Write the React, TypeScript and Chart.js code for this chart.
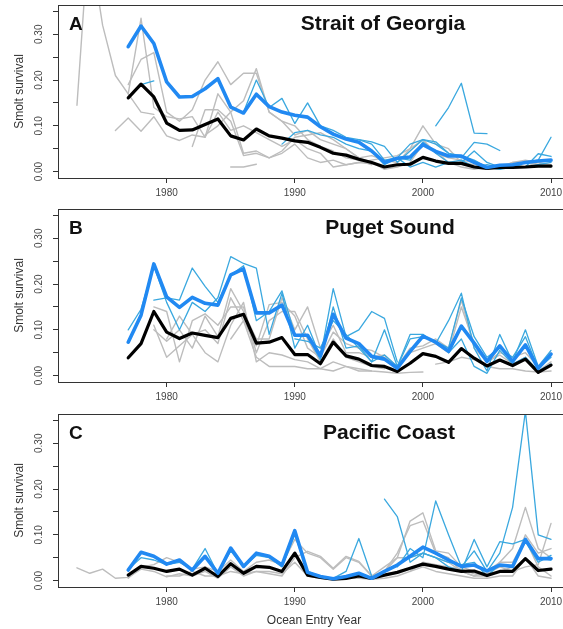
import React, { useEffect, useRef } from 'react';
import { Chart, registerables } from 'chart.js';

Chart.register(...registerables);

// ---- axes ----
const X_MIN = 1971.52;
const X_MAX = 2011.48;
const Y_MIN = -0.014;
const Y_MAX = 0.364;
const X_TICKS = [1980, 1990, 2000, 2010];
const X_TICK_LABELS = ['1980', '1990', '2000', '2010'];
const Y_TICKS = [0, 0.05, 0.1, 0.15, 0.2, 0.25, 0.3, 0.35];
const Y_TICK_LABELS = ['0.00', '', '0.10', '', '0.20', '', '0.30', ''];
const Y_TITLE = 'Smolt survival';
const X_TITLE = 'Ocean Entry Year';

type Seg = [number, number[]];

// ---- A: Strait of Georgia ----
const sogBlackStart = 1977;
const sogBlack = [0.161, 0.191, 0.163, 0.106, 0.090, 0.091, 0.103, 0.115, 0.078, 0.069, 0.093, 0.078, 0.073, 0.067, 0.064, 0.053, 0.040, 0.036, 0.027, 0.020, 0.010, 0.015, 0.016, 0.031, 0.023, 0.018, 0.018, 0.010, 0.007, 0.009, 0.009, 0.010, 0.012, 0.012];
const sogBlueStart = 1977;
const sogBlue = [0.273, 0.318, 0.280, 0.196, 0.163, 0.164, 0.181, 0.203, 0.141, 0.128, 0.169, 0.142, 0.130, 0.123, 0.119, 0.098, 0.082, 0.071, 0.064, 0.045, 0.020, 0.029, 0.032, 0.059, 0.044, 0.034, 0.034, 0.020, 0.009, 0.014, 0.015, 0.020, 0.023, 0.025];
const sogGray: Seg[] = [
  [1973, [0.145, 0.55]],
  [1974, [0.50, 0.32, 0.21, 0.17, 0.13, 0.125]],
  [1976, [0.09, 0.117, 0.088, 0.12, 0.078, 0.068, 0.08, 0.075, 0.13, 0.09, 0.10, 0.085, 0.07, 0.055, 0.07, 0.05, 0.04, 0.01, 0.015, 0.02, 0.017]],
  [1977, [0.17, 0.335, 0.14, 0.12, 0.115, 0.12, 0.075, 0.17, 0.13, 0.04, 0.045, 0.03, 0.04, 0.06, 0.03, 0.02, 0.025, 0.015, 0.02, 0.025, 0.03, 0.035, 0.05, 0.10, 0.06, 0.05, 0.02, 0.015, 0.01, 0.01, 0.02, 0.02, 0.015, 0.015]],
  [1977, [0.19, 0.245, 0.26, 0.13, 0.11, 0.135, 0.20, 0.24, 0.19, 0.215, 0.215, 0.13, 0.11, 0.08, 0.09, 0.07, 0.06, 0.05, 0.03, 0.035, 0.025, 0.02, 0.05, 0.07, 0.04, 0.03, 0.025, 0.02, 0.01, 0.015, 0.015, 0.01, 0.02, 0.015]],
  [1982, [0.055, 0.135, 0.135, 0.11, 0.035, 0.04, 0.03, 0.045, 0.075, 0.08, 0.085, 0.07, 0.05, 0.03, 0.02, 0.005, 0.01, 0.02, 0.06, 0.045, 0.02, 0.01, 0.005, 0.01, 0.005, 0.02, 0.025, 0.02, 0.01]],
  [1985, [0.01, 0.01, 0.016]],
  [1983, [0.08, 0.10, 0.13, 0.155, 0.225, 0.13, 0.11, 0.10, 0.07, 0.055, 0.045, 0.03, 0.025, 0.015]],
];
const sogLight: Seg[] = [
  [1978, [0.19, 0.198]],
  [1986, [0.13, 0.20, 0.14, 0.16, 0.105, 0.15, 0.10, 0.09, 0.075, 0.07, 0.06, 0.025, 0.03, 0.06, 0.07, 0.065, 0.04, 0.035, 0.025, 0.01, 0.005, 0.01, 0.01, 0.015, 0.02]],
  [2001, [0.10, 0.14, 0.193, 0.084, 0.083]],
  [1995, [0.07, 0.065, 0.055, 0.02, 0.045, 0.07, 0.06, 0.04, 0.03, 0.064, 0.06, 0.046]],
  [1998, [0.03, 0.01, 0.02, 0.01, 0.02, 0.025, 0.01, 0.015, 0.01, 0.01, 0.02, 0.025, 0.075]],
  [1989, [0.06, 0.085, 0.09, 0.08, 0.075, 0.06, 0.05, 0.045, 0.015, 0.03, 0.025, 0.065, 0.04, 0.02, 0.02, 0.045, 0.02, 0.01, 0.015, 0.01, 0.039, 0.033]],
];

// ---- B: Puget Sound ----
const psBlackStart = 1977;
const psBlack = [0.039, 0.07, 0.14, 0.095, 0.081, 0.093, 0.088, 0.083, 0.125, 0.134, 0.071, 0.073, 0.083, 0.046, 0.046, 0.026, 0.073, 0.043, 0.036, 0.022, 0.020, 0.009, 0.027, 0.048, 0.042, 0.029, 0.059, 0.038, 0.021, 0.034, 0.022, 0.036, 0.007, 0.023];
const psBlueStart = 1977;
const psBlue = [0.073, 0.132, 0.244, 0.172, 0.149, 0.171, 0.158, 0.154, 0.22, 0.233, 0.137, 0.137, 0.154, 0.088, 0.088, 0.043, 0.134, 0.082, 0.07, 0.042, 0.036, 0.016, 0.053, 0.086, 0.073, 0.053, 0.108, 0.071, 0.031, 0.065, 0.031, 0.067, 0.016, 0.047];
const psGray: Seg[] = [
  [1979, [0.10, 0.075, 0.10, 0.06, 0.13, 0.085, 0.19, 0.14, 0.08, 0.08, 0.17, 0.10, 0.15, 0.06, 0.11, 0.05, 0.05, 0.04, 0.045, 0.02, 0.06, 0.065, 0.08, 0.06, 0.165, 0.06, 0.03, 0.05, 0.04, 0.05, 0.02, 0.05]],
  [1979, [0.11, 0.04, 0.065, 0.09, 0.05, 0.03, 0.11, 0.16, 0.03, 0.05, 0.045, 0.035, 0.03, 0.015, 0.03, 0.02, 0.015, 0.01, 0.008, 0.005, 0.007, 0.008]],
  [1979, [0.15, 0.14, 0.03, 0.12, 0.135, 0.11, 0.15, 0.15, 0.05, 0.12, 0.14, 0.14, 0.08, 0.03, 0.08, 0.04, 0.03, 0.02, 0.015]],
  [1980, [0.08, 0.13, 0.09, 0.10, 0.07, 0.17, 0.12, 0.04, 0.02, 0.02, 0.02, 0.015, 0.015, 0.01, 0.02, 0.01, 0.01]],
  [1985, [0.08, 0.12, 0.065, 0.155, 0.16, 0.13, 0.06, 0.04, 0.095, 0.07, 0.06, 0.055, 0.04, 0.02, 0.05, 0.06, 0.07, 0.05, 0.15, 0.07, 0.03, 0.045, 0.025, 0.04, 0.01, 0.03]],
  [2001, [0.025, 0.03, 0.04, 0.035, 0.02, 0.015, 0.015, 0.01, 0.008, 0.01]],
];
const psLight: Seg[] = [
  [1977, [0.10, 0.145, 0.24, 0.16, 0.10, 0.16, 0.14, 0.17, 0.26, 0.245, 0.235, 0.09, 0.18, 0.06, 0.11, 0.04, 0.19, 0.085, 0.10, 0.14, 0.125, 0.03]],
  [1979, [0.165, 0.17, 0.165, 0.235, 0.195, 0.16, 0.22, 0.24, 0.12, 0.14, 0.185, 0.09, 0.085, 0.035, 0.15, 0.06, 0.065, 0.03, 0.10, 0.02, 0.09, 0.09, 0.07, 0.12, 0.18, 0.06, 0.01, 0.09, 0.03, 0.10, 0.02, 0.055]],
  [1990, [0.08, 0.075, 0.06, 0.12, 0.09, 0.06, 0.03, 0.045, 0.02, 0.08, 0.085, 0.075, 0.06, 0.17, 0.085, 0.04, 0.06, 0.04, 0.085, 0.015, 0.04]],
  [2002, [0.05, 0.08, 0.02, 0.005, 0.055, 0.025, 0.04, 0.01, 0.025]],
];

// ---- C: Pacific Coast ----
const pcBlackStart = 1977;
const pcBlack = [0.012, 0.031, 0.027, 0.02, 0.025, 0.012, 0.027, 0.009, 0.037, 0.016, 0.031, 0.029, 0.02, 0.06, 0.012, 0.007, 0.003, 0.005, 0.01, 0.005, 0.012, 0.018, 0.027, 0.036, 0.031, 0.025, 0.02, 0.021, 0.011, 0.02, 0.02, 0.048, 0.022, 0.025];
const pcBlueStart = 1977;
const pcBlue = [0.023, 0.062, 0.053, 0.036, 0.045, 0.023, 0.053, 0.016, 0.071, 0.031, 0.06, 0.053, 0.034, 0.109, 0.018, 0.009, 0.004, 0.009, 0.016, 0.005, 0.02, 0.034, 0.053, 0.073, 0.06, 0.045, 0.031, 0.034, 0.021, 0.034, 0.031, 0.09, 0.048, 0.048];
const pcGray: Seg[] = [
  [1973, [0.028, 0.016, 0.025, 0.005, 0.007, 0.025, 0.02, 0.008, 0.015, 0.01, 0.02, 0.005, 0.03, 0.01, 0.02, 0.015, 0.01, 0.05, 0.064, 0.053, 0.027, 0.053, 0.042, 0.01, 0.03, 0.05, 0.13, 0.148, 0.065, 0.06, 0.03, 0.02, 0.015, 0.03, 0.02, 0.03, 0.035, 0.125]],
  [1977, [0.005, 0.03, 0.035, 0.05, 0.04, 0.025, 0.03, 0.02, 0.045, 0.02, 0.04, 0.045, 0.035, 0.09, 0.06, 0.05, 0.025, 0.05, 0.04, 0.01, 0.02, 0.05, 0.05, 0.06, 0.05, 0.04, 0.02, 0.01, 0.02, 0.04, 0.07, 0.16, 0.07, 0.05]],
  [1980, [0.01, 0.01, 0.02, 0.01, 0.01, 0.02, 0.015, 0.02, 0.02, 0.015, 0.04, 0.01, 0.005, 0.002, 0.005, 0.005, 0.003, 0.005, 0.01, 0.02, 0.03, 0.02, 0.015, 0.01, 0.005, 0.005, 0.01, 0.01, 0.05, 0.01, 0.005]],
  [1997, [0.02, 0.06, 0.12, 0.13, 0.06, 0.05, 0.02, 0.01, 0.01, 0.02, 0.03, 0.10, 0.06, 0.07]],
  [1999, [0.02, 0.04, 0.035, 0.03, 0.025, 0.015, 0.01, 0.04, 0.04, 0.09, 0.03, 0.01]],
];
const pcLight: Seg[] = [
  [1977, [0.025, 0.05, 0.045, 0.035, 0.04, 0.025, 0.07, 0.015, 0.065, 0.03, 0.055, 0.05, 0.03, 0.10, 0.02, 0.01, 0.005, 0.02, 0.092, 0.01]],
  [1997, [0.178, 0.14, 0.04, 0.06, 0.05, 0.03, 0.02, 0.09, 0.03, 0.085, 0.08, 0.09, 0.05, 0.045]],
  [1998, [0.03, 0.07, 0.05, 0.174, 0.10, 0.03, 0.065, 0.02, 0.06, 0.16, 0.37, 0.10, 0.09]],
  [1999, [0.05, 0.06, 0.05, 0.04, 0.035, 0.04, 0.01, 0.035, 0.03, 0.085, 0.04, 0.055]],
];

// ---- styling ----
const COL_BLUE = '#2189f2';
const COL_BLACK = '#000000';
const COL_LIGHT = '#3aa8df';
const COL_GRAY = '#bdbdbd';
const FONT = '"Liberation Sans", Arial, Helvetica, sans-serif';

const toPts = (start: number, vals: number[]) => vals.map((v, i) => ({ x: start + i, y: v }));

const line = (data: any[], color: string, width: number) => ({
  data,
  borderColor: color,
  borderWidth: width,
  pointRadius: 0,
  pointHoverRadius: 0,
  fill: false,
  tension: 0,
  clip: 0,
  spanGaps: false,
  borderJoinStyle: 'round',
  borderCapStyle: 'round',
});

const decoPlugin = {
  id: 'deco',
  afterDraw(chart: any, _args: any, opts: any) {
    const { ctx, chartArea: a } = chart;
    ctx.save();
    ctx.strokeStyle = '#333';
    ctx.lineWidth = 1;
    ctx.strokeRect(Math.round(a.left) + 0.5, Math.round(a.top) + 0.5, Math.round(a.right - a.left), Math.round(a.bottom - a.top));
    ctx.fillStyle = '#111';
    ctx.textBaseline = 'alphabetic';
    ctx.textAlign = 'left';
    ctx.font = `bold 19px ${FONT}`;
    ctx.fillText(opts.letter, a.left + 11, a.top + 25);
    ctx.font = `bold 21px ${FONT}`;
    ctx.textAlign = 'center';
    ctx.fillText(opts.title, opts.titleX, a.top + 25);
    ctx.restore();
  },
};

type PanelProps = {
  top: number;
  height: number;
  xAxisHeight: number;
  showXTitle: boolean;
  letter: string;
  title: string;
  titleX: number;
  blackStart: number;
  black: number[];
  blueStart: number;
  blue: number[];
  grays: Seg[];
  lights: Seg[];
};

function Panel(p: PanelProps) {
  const ref = useRef<HTMLCanvasElement>(null);
  useEffect(() => {
    const datasets: any[] = [
      line(toPts(p.blueStart, p.blue), COL_BLUE, 3.6),
      line(toPts(p.blackStart, p.black), COL_BLACK, 3.2),
      ...p.lights.map(([s, v]) => line(toPts(s, v), COL_LIGHT, 1.3)),
      ...p.grays.map(([s, v]) => line(toPts(s, v), COL_GRAY, 1.4)),
    ];
    const chart = new Chart(ref.current as HTMLCanvasElement, {
      type: 'line',
      data: { datasets },
      plugins: [decoPlugin as any],
      options: {
        animation: false,
        responsive: false,
        events: [],
        layout: { padding: { top: 5, right: 10, left: 0, bottom: 0 } },
        plugins: {
          legend: { display: false },
          tooltip: { enabled: false },
          deco: { letter: p.letter, title: p.title, titleX: p.titleX },
        } as any,
        scales: {
          x: {
            type: 'linear',
            min: X_MIN,
            max: X_MAX,
            afterBuildTicks: (s: any) => {
              s.ticks = X_TICKS.map((v) => ({ value: v }));
            },
            afterFit: (s: any) => {
              s.height = p.xAxisHeight;
              s.paddingLeft = 0;
              s.paddingRight = 0;
            },
            ticks: {
              callback: (_v: any, i: number) => X_TICK_LABELS[i],
              font: { family: FONT, size: 10 },
              color: '#444',
              padding: 4,
              maxRotation: 0,
              minRotation: 0,
              autoSkip: false,
            },
            grid: { drawOnChartArea: false, drawTicks: true, tickLength: 5, color: '#333' },
            border: { display: true, color: '#333' },
            title: {
              display: p.showXTitle,
              text: X_TITLE,
              font: { family: FONT, size: 12 },
              color: '#333',
              padding: { top: 0, bottom: 1 },
            },
          },
          y: {
            type: 'linear',
            min: Y_MIN,
            max: Y_MAX,
            afterBuildTicks: (s: any) => {
              s.ticks = Y_TICKS.map((v) => ({ value: v }));
            },
            afterFit: (s: any) => {
              s.width = 58;
              s.paddingTop = 0;
              s.paddingBottom = 0;
            },
            ticks: {
              callback: (_v: any, i: number) => Y_TICK_LABELS[i],
              font: { family: FONT, size: 10 },
              color: '#444',
              padding: 4,
              minRotation: 90,
              maxRotation: 90,
              crossAlign: 'center',
              autoSkip: false,
            },
            grid: { drawOnChartArea: false, drawTicks: true, tickLength: 5, color: '#333' },
            border: { display: true, color: '#333' },
            title: {
              display: true,
              text: Y_TITLE,
              font: { family: FONT, size: 12 },
              color: '#333',
              padding: { top: 12, bottom: 0 },
            },
          },
        },
      } as any,
    });
    return () => chart.destroy();
  }, []);
  return (
    <canvas
      ref={ref}
      width={580}
      height={p.height}
      style={{ position: 'absolute', left: 0, top: p.top, width: 580, height: p.height }}
    />
  );
}

export default function App() {
  return (
    <div style={{ position: 'absolute', left: 0, top: 0, width: 563, height: 629, overflow: 'hidden', background: '#fff' }}>
      <Panel top={0} height={204} xAxisHeight={26} showXTitle={false} letter="A" title="Strait of Georgia" titleX={383}
        blackStart={sogBlackStart} black={sogBlack} blueStart={sogBlueStart} blue={sogBlue} grays={sogGray} lights={sogLight} />
      <Panel top={204} height={204} xAxisHeight={26} showXTitle={false} letter="B" title="Puget Sound" titleX={390}
        blackStart={psBlackStart} black={psBlack} blueStart={psBlueStart} blue={psBlue} grays={psGray} lights={psLight} />
      <Panel top={409} height={220} xAxisHeight={42} showXTitle={true} letter="C" title="Pacific Coast" titleX={389}
        blackStart={pcBlackStart} black={pcBlack} blueStart={pcBlueStart} blue={pcBlue} grays={pcGray} lights={pcLight} />
    </div>
  );
}
